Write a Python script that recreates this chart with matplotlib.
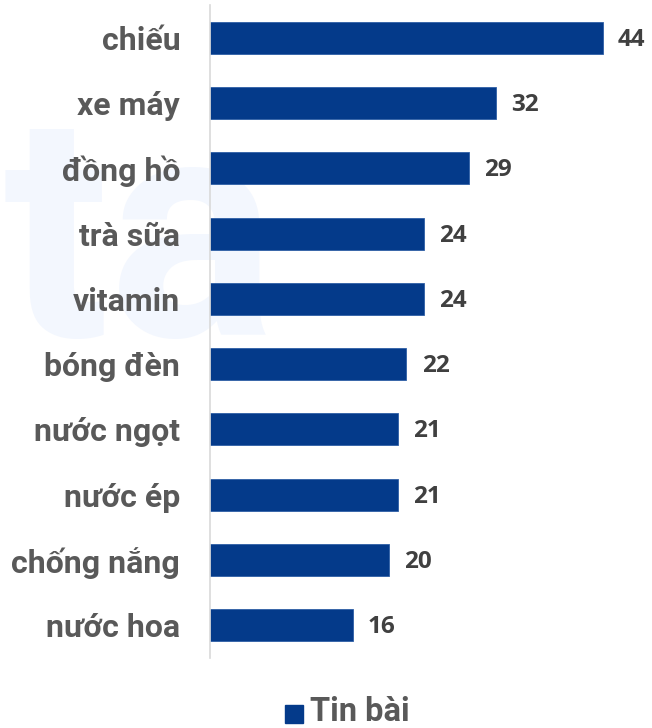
import matplotlib
matplotlib.use("Agg")
import matplotlib.pyplot as plt
from matplotlib.patches import Rectangle

categories = ["chiếu", "xe máy", "đồng hồ", "trà sữa", "vitamin", "bóng đèn",
              "nước ngọt", "nước ép", "chống nắng", "nước hoa"]
values = [44, 32, 29, 24, 24, 22, 21, 21, 20, 16]
series_name = "Tin bài"

bar_color = "#043A8A"
label_color = "#595959"
value_color = "#404040"

plt.rcParams['font.family'] = ['Roboto', 'DejaVu Sans']

fig = plt.figure(figsize=(6.52, 7.28), dpi=100)

# watermark
fig.text(0.005, 1 - 250/728, "ta", fontsize=225, fontweight='bold', color="#F3F7FE",
         ha='left', va='center', zorder=0)

ax = fig.add_axes([210/652, 70/728, 442/652, 653/728], zorder=1)
ax.patch.set_alpha(0)
y = list(range(len(categories)))
ax.barh(y, values, height=0.49, color=bar_color, edgecolor="#2E5FA6", linewidth=0.6, zorder=2)
ax.set_ylim(len(categories) - 0.5, -0.5)
ax.set_xlim(0, 49.5)
for yi, v in zip(y, values):
    ax.text(v + 1.7, yi + 0.03, str(v), va='center', ha='left', fontsize=17.5,
            fontweight='bold', color=value_color, family=['Open Sans', 'DejaVu Sans'])
ax.set_yticks(y)
ax.set_yticklabels(categories, fontsize=23, fontweight='bold', color=label_color)
ax.tick_params(axis='y', length=0, pad=21.5)
ax.set_xticks([])
for s in ['top', 'right', 'bottom']:
    ax.spines[s].set_visible(False)
ax.spines['left'].set_color("#D9D9D9")
ax.spines['left'].set_linewidth(1.2)

# legend
fig.patches.append(Rectangle((285/652, 1 - 723/728), 18/652, 18/728,
                             transform=fig.transFigure, color=bar_color, figure=fig))
fig.text(310/652, 1 - 721/728, series_name, fontsize=23.5, fontweight='bold',
         color=label_color, ha='left', va='baseline')

fig.savefig("out.png", dpi=100)
